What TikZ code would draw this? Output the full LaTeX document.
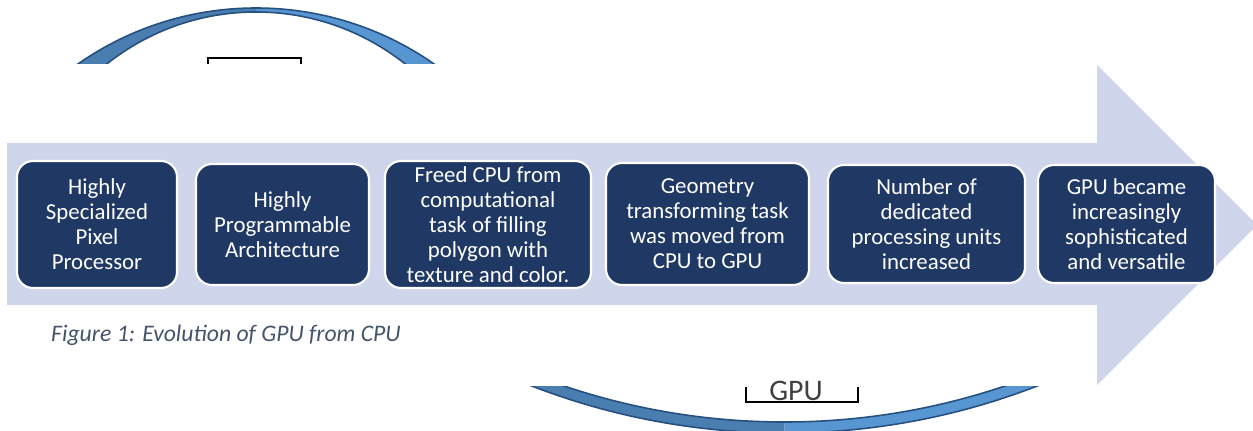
\documentclass[tikz,border=0pt]{standalone}
\usepackage{fontspec}
\setmainfont{Carlito}
\definecolor{arrowfill}{RGB}{207,213,234}
\definecolor{boxfill}{RGB}{31,56,100}
\definecolor{ringdark}{RGB}{74,126,176}
\definecolor{ringlight}{RGB}{88,150,210}
\definecolor{ringline}{RGB}{37,80,128}
\definecolor{captiongray}{RGB}{68,84,106}
\definecolor{labelgray}{RGB}{64,64,64}

\begin{document}
\begin{tikzpicture}[
  stage/.style={fill=boxfill, draw=white, line width=1.2pt, rounded corners=0.32cm,
    text=white, align=center, inner sep=0pt, font=\fontsize{13}{14.2}\selectfont}]
  \useasboundingbox (0,0) rectangle (25.06,8.6);
  % Ring round the CPU box, only its top shows.
  \begin{scope}
    \clip (0,7.32) rectangle (5.12,8.6);
    \fill[ringdark, even odd rule] (5.12,2.22) circle (6.22) (5.12,3.56) circle (4.8);
  \end{scope}
  \begin{scope}
    \clip (5.12,7.32) rectangle (25.06,8.6);
    \fill[ringlight, even odd rule] (5.12,2.22) circle (6.22) (5.12,3.56) circle (4.8);
  \end{scope}
  \begin{scope}
    \clip (0,7.32) rectangle (25.06,8.6);
    \draw[ringline, line width=0.9pt] (5.12,2.22) circle (6.22) (5.12,3.56) circle (4.8);
  \end{scope}
  \draw[line width=0.6pt] (4.16,7.32) |- (6.02,7.44) -- (6.02,7.32);
  % Ring round the GPU box, only its bottom shows.
  \begin{scope}
    \clip (0,0) rectangle (15.69,0.88);
    \fill[ringdark, even odd rule] (15.69,13.94) circle (14) (15.69,13.94) circle (13.78);
  \end{scope}
  \begin{scope}
    \clip (15.69,0) rectangle (25.06,0.88);
    \fill[ringlight, even odd rule] (15.69,13.94) circle (14) (15.69,13.94) circle (13.78);
  \end{scope}
  \begin{scope}
    \clip (0,0) rectangle (25.06,0.88);
    \draw[ringline, line width=0.9pt] (15.69,13.94) circle (14) (15.69,13.94) circle (13.78);
  \end{scope}
  \node[anchor=base, text=labelgray, font=\fontsize{17}{20}\selectfont] (gpu) at (15.92,0.6) {GPU};
  \draw[line width=0.6pt] (14.92,0.86) |- (17.16,0.56) -- (17.16,0.86);
  % Big arrow.
  \fill[arrowfill] (0.14,2.5) -- (21.94,2.5) -- (21.94,0.9) -- (25.14,4.1)
    -- (21.94,7.3) -- (21.94,5.74) -- (0.14,5.74) -- cycle;
  % Stages.
  \node[stage, minimum width=3.2cm, minimum height=2.54cm] (pixel) at (1.94,4.11)
    {Highly\\Specialized\\Pixel\\Processor};
  \node[stage, minimum width=3.46cm, minimum height=2.42cm] (prog) at (5.65,4.11)
    {Highly\\Programmable\\Architecture};
  \node[stage, minimum width=4.12cm, minimum height=2.54cm] (freed) at (9.76,4.11)
    {Freed CPU from\\computational\\task of filling\\polygon with\\texture and color.};
  \node[stage, minimum width=4.06cm, minimum height=2.44cm] (geom) at (14.15,4.12)
    {Geometry\\transforming task\\was moved from\\CPU to GPU};
  \node[stage, minimum width=3.94cm, minimum height=2.36cm] (units) at (18.53,4.12)
    {Number of\\dedicated\\processing units\\increased};
  \node[stage, minimum width=3.54cm, minimum height=2.36cm] (versatile) at (22.53,4.12)
    {GPU became\\increasingly\\sophisticated\\and versatile};
  % Caption.
  \node[anchor=base west, text=captiongray, font=\itshape\fontsize{13.5}{16}\selectfont] (caption)
    at (0.9,1.78) {Figure 1: Evolution of GPU from CPU};
\end{tikzpicture}
\end{document}
